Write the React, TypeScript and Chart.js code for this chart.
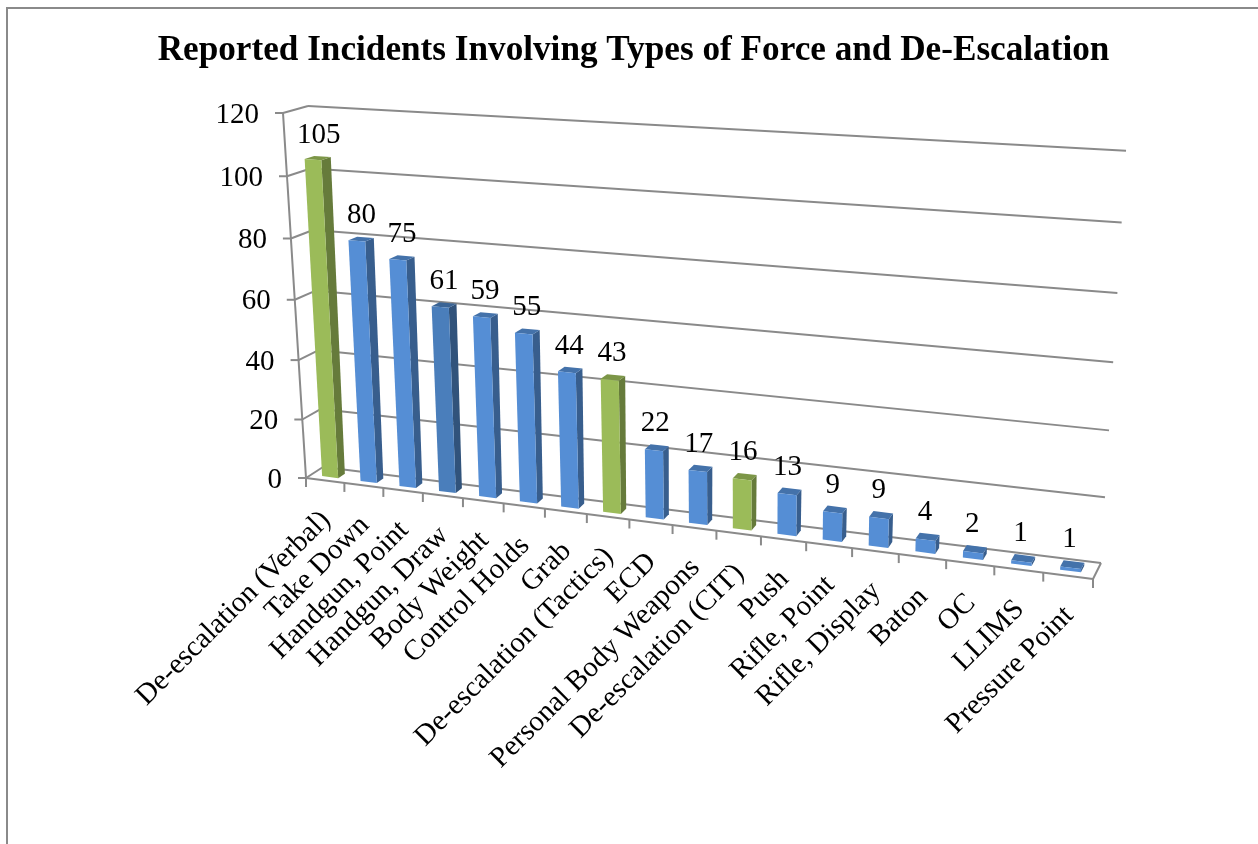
import React, { useEffect, useRef } from "react";
import { Chart, registerables } from "chart.js";

Chart.register(...registerables);

const categories = [
  "De-escalation (Verbal)", "Take Down", "Handgun, Point", "Handgun, Draw", "Body Weight", "Control Holds",
  "Grab", "De-escalation (Tactics)", "ECD", "Personal Body Weapons", "De-escalation (CIT)", "Push",
  "Rifle, Point", "Rifle, Display", "Baton", "OC", "LLIMS", "Pressure Point",
];
const incidents = [105, 80, 75, 61, 59, 55, 44, 43, 22, 17, 16, 13, 9, 9, 4, 2, 1, 1];
const BLUE = "#558ED5";
const DEEP = "#4A7EBB";
const GREEN = "#9BBB59";
const barColors = [GREEN, BLUE, BLUE, DEEP, BLUE, BLUE, BLUE, GREEN, BLUE, BLUE, GREEN, BLUE, BLUE, BLUE, BLUE, BLUE, BLUE, BLUE];

const TITLE = "Reported Incidents Involving Types of Force and De-Escalation";
const SERIF = "'Liberation Serif', 'Times New Roman', serif";
const AXIS = "#8A8A8A";
const TEXT_SIZE = 29;

type P = [number, number];

// Projective map of the unit square (u right, v up) onto a quad: bottom-left, bottom-right, top-right, top-left.
function homography(q: P[]) {
  const [[x0, y0], [x1, y1], [x2, y2], [x3, y3]] = q;
  const dx1 = x1 - x2, dx2 = x3 - x2, sx = x0 - x1 + x2 - x3;
  const dy1 = y1 - y2, dy2 = y3 - y2, sy = y0 - y1 + y2 - y3;
  const den = dx1 * dy2 - dx2 * dy1;
  const g = (sx * dy2 - dx2 * sy) / den;
  const h = (dx1 * sy - sx * dy1) / den;
  const a = x1 - x0 + g * x1, b = x3 - x0 + h * x3;
  const d = y1 - y0 + g * y1, e = y3 - y0 + h * y3;
  return (u: number, v: number): P => {
    const w = g * u + h * v + 1;
    return [(a * u + b * v + x0) / w, (d * u + e * v + y0) / w];
  };
}

const backWall = homography([[323, 467], [1101, 563], [1126, 150.7], [308, 106]]);
const frontWall = homography([[306, 478], [1093, 579], [1110, 163], [283, 113]]);

function shade(hex: string, k: number) {
  const n = parseInt(hex.slice(1), 16);
  const c = (s: number) => Math.round(((n >> s) & 255) * k);
  return `rgb(${c(16)},${c(8)},${c(0)})`;
}

const perspectivePlugin = {
  id: "perspective",
  beforeDatasetDraw(chart: any) {
    const { ctx, chartArea: area, scales } = chart;
    const { y: ys } = scales;
    const project = (px: number, py: number, depth: number): P => {
      const u = (px - area.left) / (area.right - area.left);
      const v = (area.bottom - py) / (area.bottom - area.top);
      const b = backWall(u, v), f = frontWall(u, v);
      return [f[0] + (b[0] - f[0]) * depth, f[1] + (b[1] - f[1]) * depth];
    };
    const seg = (a: P, b: P) => {
      ctx.beginPath();
      ctx.moveTo(a[0], a[1]);
      ctx.lineTo(b[0], b[1]);
      ctx.stroke();
    };
    const poly = (pts: P[], fill: string) => {
      ctx.beginPath();
      pts.forEach((p, i) => (i ? ctx.lineTo(p[0], p[1]) : ctx.moveTo(p[0], p[1])));
      ctx.closePath();
      ctx.fillStyle = fill;
      ctx.fill();
    };

    ctx.save();
    // page frame
    ctx.strokeStyle = AXIS;
    ctx.lineWidth = 2;
    ctx.beginPath();
    ctx.moveTo(7, 844);
    ctx.lineTo(7, 8);
    ctx.lineTo(1258, 8);
    ctx.stroke();

    // walls and value axis
    ctx.lineWidth = 2;
    ctx.font = `${TEXT_SIZE}px ${SERIF}`;
    ctx.textBaseline = "middle";
    ctx.textAlign = "right";
    const L = area.left, R = area.right;
    ys.ticks.forEach((t: any) => {
      const py = ys.getPixelForValue(t.value);
      const fl = project(L, py, 0), bl = project(L, py, 1), br = project(R, py, 1);
      ctx.strokeStyle = AXIS;
      seg(fl, bl);
      seg(bl, br);
      seg([fl[0] - 8, fl[1]], fl);
      ctx.fillStyle = "#000";
      ctx.fillText(String(t.value), fl[0] - 24, fl[1] + 2);
    });
    const y0 = ys.getPixelForValue(0);
    const yMax = ys.getPixelForValue(ys.max);
    ctx.strokeStyle = AXIS;
    seg(project(L, yMax, 0), project(L, y0, 0));
    seg(project(L, y0, 0), project(R, y0, 0));
    seg(project(R, y0, 0), project(R, y0, 1));
    const n = categories.length;
    for (let i = 0; i <= n; i++) {
      const p = project(L + ((R - L) * i) / n, y0, 0);
      seg(p, [p[0], p[1] + 9]);
    }

    // bars
    const meta = chart.getDatasetMeta(0);
    const D0 = 0.3, D1 = 0.7;
    meta.data.forEach((el: any) => {
      const { x, y, base, width } = el;
      const l = x - width / 2, r = x + width / 2;
      const col = el.options.backgroundColor;
      poly([project(r, base, D0), project(r, base, D1), project(r, y, D1), project(r, y, D0)], shade(col, 0.66));
      poly([project(l, y, D0), project(r, y, D0), project(r, y, D1), project(l, y, D1)], shade(col, 0.8));
      poly([project(l, base, D0), project(r, base, D0), project(r, y, D0), project(l, y, D0)], col);
    });
    // labels on top of everything
    meta.data.forEach((el: any, i: number) => {
      const top = project(el.x, el.y, 0.75);
      ctx.fillStyle = "#000";
      ctx.textAlign = "center";
      ctx.textBaseline = "middle";
      ctx.fillText(String(incidents[i]), top[0] - 5, top[1] - 21);
      const foot = project(el.x, y0, 0);
      ctx.save();
      ctx.translate(foot[0] + 1, foot[1] + 35.5);
      ctx.rotate(-Math.PI / 4);
      ctx.textAlign = "right";
      ctx.fillText(categories[i], 0, 0);
      ctx.restore();
    });
    ctx.restore();
    return false;
  },
};

export default function App() {
  const ref = useRef<HTMLCanvasElement>(null);
  useEffect(() => {
    document.body.style.margin = "0";
    const chart = new Chart(ref.current as HTMLCanvasElement, {
      type: "bar",
      data: {
        labels: categories,
        datasets: [{ label: "Incidents", data: incidents, backgroundColor: barColors, barPercentage: 0.42, categoryPercentage: 1 }],
      },
      options: {
        responsive: false,
        animation: false,
        layout: { padding: { left: 105, right: 96, bottom: 100 } },
        plugins: {
          legend: { display: false },
          tooltip: { enabled: false },
          title: {
            display: true,
            text: TITLE,
            color: "#000",
            font: { family: SERIF, size: 35.2, weight: "bold" },
            padding: { top: 30, bottom: 20 },
          },
        },
        scales: {
          x: { display: false },
          y: { display: false, min: 0, max: 120, ticks: { stepSize: 20 } },
        },
      },
      plugins: [perspectivePlugin],
    } as any);
    return () => chart.destroy();
  }, []);
  return <canvas ref={ref} width={1258} height={844} style={{ display: "block" }} />;
}
